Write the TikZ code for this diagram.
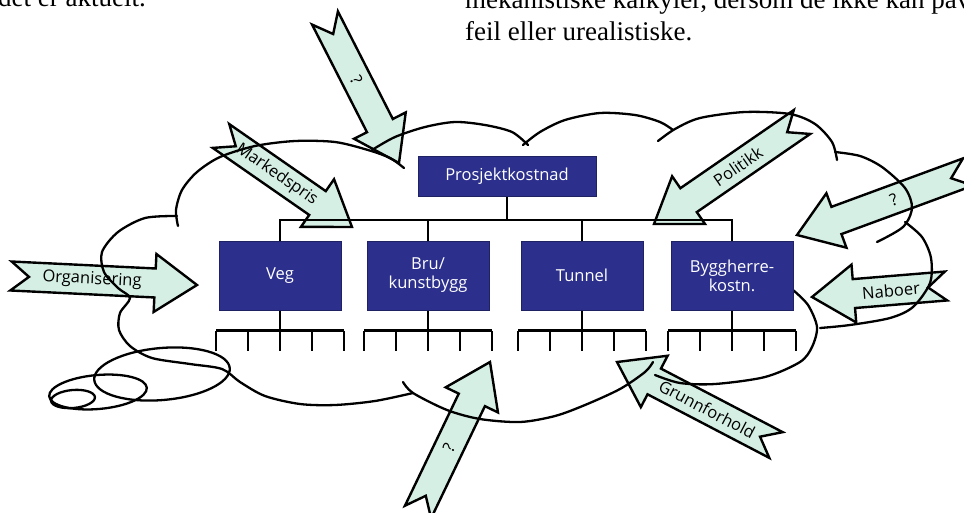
\documentclass[tikz,border=0pt]{standalone}
\usepackage{fontspec}
\setmainfont{Liberation Serif}
\newfontfamily\boxfont{Open Sans}
\usetikzlibrary{positioning}
\definecolor{boxblue}{RGB}{44,48,140}
\definecolor{mint}{RGB}{214,239,229}

% block arrow: tail x, tail y, tip x, tip y, label, extra turn of label, name
\newcommand{\pil}[7]{%
    \pgfmathsetmacro{\pang}{atan2(#2-#4,#3-#1)}
    \pgfmathsetmacro{\plen}{veclen(#3-#1,#4-#2)}
    \begin{scope}[shift={(#1,#2)},rotate=\pang]
        \draw[pilbody] (0,14.5) -- ({\plen-42},14.5) -- ({\plen-42},29) -- (\plen,0) -- ({\plen-42},-29) -- ({\plen-42},-14.5) -- (0,-14.5) -- (18,0) -- cycle;
        \node[pillabel,rotate=\pang+#6] (#7) at ({(\plen-24)/2},0) {#5};
    \end{scope}}

\begin{document}
\begin{tikzpicture}[x=1pt,y=-1pt,
    box/.style={draw=boxblue!70!black,fill=boxblue,text=white,font=\boxfont\fontsize{16.5}{19}\selectfont,minimum width=122pt,minimum height=69pt,align=center,line width=1pt},
    tree/.style={line width=2.4pt},
    sky/.style={line width=2.3pt,line cap=round},
    pilbody/.style={draw,fill=mint,line width=2.4pt,line join=miter},
    pillabel/.style={font=\boxfont\fontsize{16.5}{19}\selectfont,inner sep=0pt},
    pagetext/.style={font=\fontsize{27}{32}\selectfont,inner sep=0pt}]
    \fill[white] (0,0) rectangle (964,512);
    \useasboundingbox (0,0) rectangle (964,512);

    % text of the page round the figure
    \node[pagetext,anchor=base east] (txtA) at (146,6) {der det er aktuelt.};
    \node[pagetext,anchor=base west] (txtB) at (465,8) {mekanistiske kalkyler, dersom de ikke kan påvise};
    \node[pagetext,anchor=base west] (txtC) at (465,40) {feil eller urealistiske.};

    % arrows
    \pil{325}{18}{399}{163}{?}{0}{qa}
    \pil{221}{136}{352}{227}{Markedspris}{0}{marked}
    \pil{11}{276}{197}{285}{Organisering}{0}{org}
    \pil{418}{512}{490}{362}{?}{0}{qb}
    \pil{776}{445}{617}{362}{Grunnforhold}{180}{grunn}
    \pil{946}{286}{812}{297}{Naboer}{180}{nabo}
    \pil{968}{172}{797}{235}{?}{180}{qc}
    \pil{802}{122}{654}{224}{Politikk}{180}{pol}

    % cloud
    \draw[sky] plot[smooth] coordinates {(177,216) (145,218) (118,232) (102,252) (104,272) (118,288) (130,298) (120,313) (119,330) (130,346) (152,358) (190,364) (222,369) (240,382) (265,396) (300,404) (335,405) (375,401) (413,393)};
    \draw[sky] plot[smooth] coordinates {(178,226) (176,210) (182,190) (197,172) (220,157) (255,146) (295,141) (335,142) (368,150) (390,158) (404,168)};
    \draw[sky] plot[smooth] coordinates {(372,150) (395,137) (425,127) (455,122) (485,125) (512,132) (528,145)};
    \draw[sky] plot[smooth] coordinates {(523,145) (540,132) (565,120) (600,113) (635,115) (660,122) (673,130)};
    \draw[sky] plot[smooth] coordinates {(658,141) (675,129) (700,118) (745,112) (790,114) (815,124) (832,142) (837,160)};
    \draw[sky] plot[smooth] coordinates {(835,152) (860,156) (882,167) (905,188) (912,208) (903,227) (877,242)};
    \draw[sky] plot[smooth] coordinates {(905,222) (922,237) (931,258) (930,283) (913,307) (890,318) (850,325) (820,328)};
    \draw[sky] plot[smooth] coordinates {(793,290) (808,305) (817,327) (812,347) (800,362) (765,377) (715,384) (680,383) (655,375)};
    \draw[sky] plot[smooth] coordinates {(403,382) (413,393) (447,410) (480,419) (520,422) (555,416) (585,405) (620,389) (645,372) (653,362)};
    \draw[sky] (162,374) ellipse[x radius=68,y radius=26,rotate=5];
    \draw[sky] (98,392) ellipse[x radius=49,y radius=17,rotate=5];
    \draw[sky] (73,399) ellipse[x radius=22,y radius=9,rotate=5];

    % cost tree
    \node[box,minimum width=178pt,minimum height=40pt] (pk) at (507,176) {Prosjektkostnad};
    \node[box] (veg) at (280,275.5) {Veg};
    \node[box] (bru) at (428,275.5) {Bru/\\kunstbygg};
    \node[box] (tunnel) at (582,275.5) {Tunnel};
    \node[box] (bygg) at (732,275.5) {Byggherre-\\kostn.};
    \coordinate (bus) at (0,220);
    \draw[tree] (veg.north) |- (bygg.north |- bus) -- (bygg.north);
    \draw[tree] (pk.south) -- (pk.south |- bus);
    \foreach \b in {bru,tunnel}
        \draw[tree] (\b.north) -- (\b.north |- bus);
    \foreach \b in {veg,bru,tunnel,bygg}{
        \draw[tree] (\b.south) -- ++(0,20);
        \draw[tree] ([xshift=-64pt,yshift=-20pt]\b.south) -- ++(128,0);
        \foreach \k in {0,...,4}
            \draw[tree] ([xshift={\k*32pt-64pt},yshift=-20pt]\b.south) -- ++(0,20);
    }
\end{tikzpicture}
\end{document}
